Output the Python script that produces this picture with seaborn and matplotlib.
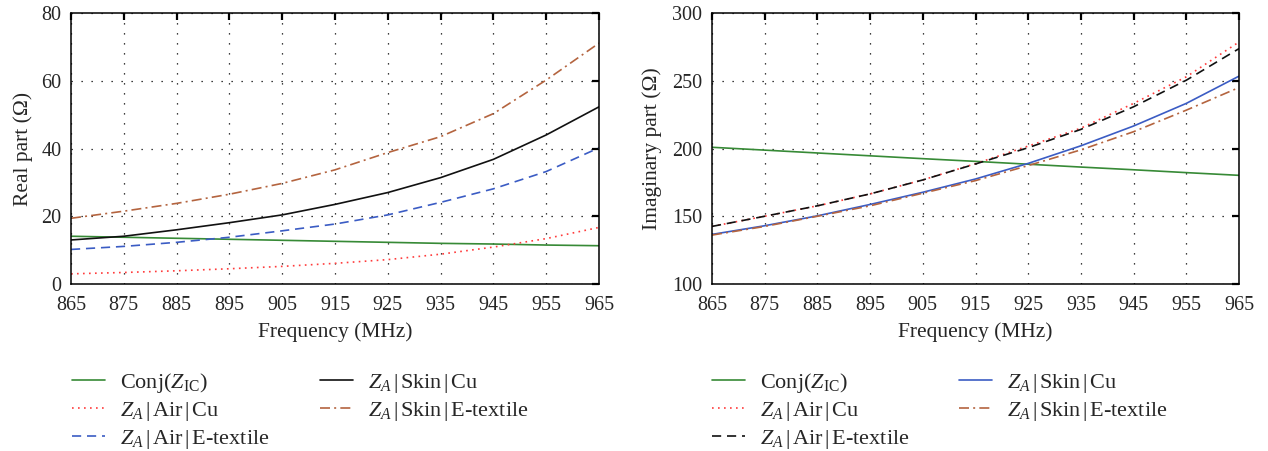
import numpy as np
import pandas as pd
import seaborn as sns
import matplotlib
matplotlib.use("Agg")
import matplotlib.pyplot as plt

# Frequency sweep (MHz)
freq = [865, 875, 885, 895, 905, 915, 925, 935, 945, 955, 965]

# Real part (Ohm)
re_conj_ic = [14.1, 13.8, 13.5, 13.2, 12.9, 12.6, 12.3, 12.0, 11.8, 11.5, 11.3]
re_air_cu = [3.0, 3.4, 3.9, 4.5, 5.2, 6.1, 7.2, 8.8, 10.9, 13.4, 16.7]
re_air_etex = [10.2, 11.1, 12.3, 13.8, 15.7, 17.7, 20.4, 24.1, 28.1, 33.2, 40.2]
re_skin_cu = [13.0, 14.1, 16.0, 18.1, 20.4, 23.5, 27.0, 31.4, 36.8, 44.0, 52.3]
re_skin_etex = [19.4, 21.5, 23.8, 26.5, 29.7, 33.7, 38.8, 43.5, 50.3, 60.2, 71.1]

# Imaginary part (Ohm)
im_conj_ic = [200.9, 198.8, 196.7, 194.6, 192.5, 190.5, 188.4, 186.3, 184.3, 182.2, 180.2]
im_air_cu = [142.5, 150.0, 157.7, 166.5, 176.8, 188.8, 201.8, 215.0, 233.3, 252.9, 278.6]
im_air_etex = [142.5, 150.0, 157.7, 166.5, 176.8, 188.6, 200.6, 214.1, 230.8, 250.4, 273.7]
im_skin_cu = [136.6, 143.0, 150.3, 158.7, 167.7, 177.5, 189.0, 202.0, 216.6, 233.3, 253.4]
im_skin_etex = [136.1, 142.5, 150.0, 157.7, 167.0, 176.3, 187.4, 199.0, 212.4, 228.3, 245.0]

labels = [
    r"Conj($Z_{\mathrm{IC}}$)",
    r"$Z_A$$\,|\,$Air$\,|\,$Cu",
    r"$Z_A$$\,|\,$Air$\,|\,$E-textile",
    r"$Z_A$$\,|\,$Skin$\,|\,$Cu",
    r"$Z_A$$\,|\,$Skin$\,|\,$E-textile",
]

sns.set_style("white")
plt.rcParams["font.family"] = ["Liberation Serif", "DejaVu Serif"]
plt.rcParams["mathtext.fontset"] = "custom"
plt.rcParams["mathtext.rm"] = "Liberation Serif"
plt.rcParams["mathtext.it"] = "Liberation Serif:italic"
plt.rcParams["mathtext.bf"] = "Liberation Serif:bold"
plt.rcParams["xtick.direction"] = "in"
plt.rcParams["ytick.direction"] = "in"
plt.rcParams["xtick.top"] = True
plt.rcParams["ytick.right"] = True

GREEN = "#378a36"
RED = "#ff3b3b"
BLUE = "#3b5cc4"
BROWN = "#b4643f"
BLACK = "#111111"

DOT = (0, (1.0, 2.6))
DASH = (0, (5.5, 3.5))
DASHDOT = (0, (6.0, 2.5, 1.2, 2.5))

TICK_FS = 14.5
LABEL_FS = 15.5
LEGEND_FS = 16

fig = plt.figure(figsize=(12.68, 4.51), dpi=100)
ax1 = fig.add_axes([71 / 1268, 1 - 284 / 451, 528 / 1268, 271 / 451])
ax2 = fig.add_axes([712 / 1268, 1 - 284 / 451, 527 / 1268, 271 / 451])

left_series = [
    (re_conj_ic, GREEN, "-"),
    (re_air_cu, RED, DOT),
    (re_air_etex, BLUE, DASH),
    (re_skin_cu, BLACK, "-"),
    (re_skin_etex, BROWN, DASHDOT),
]
right_series = [
    (im_conj_ic, GREEN, "-"),
    (im_air_cu, RED, DOT),
    (im_air_etex, BLACK, DASH),
    (im_skin_cu, BLUE, "-"),
    (im_skin_etex, BROWN, DASHDOT),
]


def draw(ax, series, ylim, yticks, ylabel, ypad):
    for (vals, color, ls), lab in zip(series, labels):
        sns.lineplot(x=freq, y=vals, ax=ax, color=color, linestyle=ls,
                     linewidth=1.2, label=lab)
    ax.set_xlim(865, 965)
    ax.set_ylim(*ylim)
    ax.set_xticks(freq)
    ax.set_yticks(yticks)
    ax.tick_params(axis="both", which="major", labelsize=TICK_FS, length=5,
                   width=1.6, color="black", pad=7)
    ax.tick_params(axis="x", which="major", pad=9)
    ax.grid(True, color="black", linestyle=(0, (1, 7)), linewidth=0.9)
    for sp in ax.spines.values():
        sp.set_color("black")
        sp.set_linewidth(1.1)
    ax.set_xlabel("Frequency (MHz)", fontsize=LABEL_FS, labelpad=5)
    ax.set_ylabel(ylabel, fontsize=LABEL_FS, labelpad=ypad)


draw(ax1, left_series, (0, 80), [0, 20, 40, 60, 80], "Real part (Ω)", 6)
draw(ax2, right_series, (100, 300), [100, 150, 200, 250, 300],
     "Imaginary part (Ω)", 7)

for ax, x0, colsp in [(ax1, 72 / 1268, 2.25), (ax2, 712 / 1268, 2.2)]:
    h, l = ax.get_legend_handles_labels()
    ax.legend(h, l, loc="upper left", bbox_to_anchor=(x0, 1 - 371 / 451),
              bbox_transform=fig.transFigure, ncol=2, frameon=False,
              fontsize=LEGEND_FS, borderpad=0, borderaxespad=0,
              handlelength=1.5, handletextpad=0.68, labelspacing=0.22,
              columnspacing=colsp)

fig.savefig("out.png", dpi=100)
